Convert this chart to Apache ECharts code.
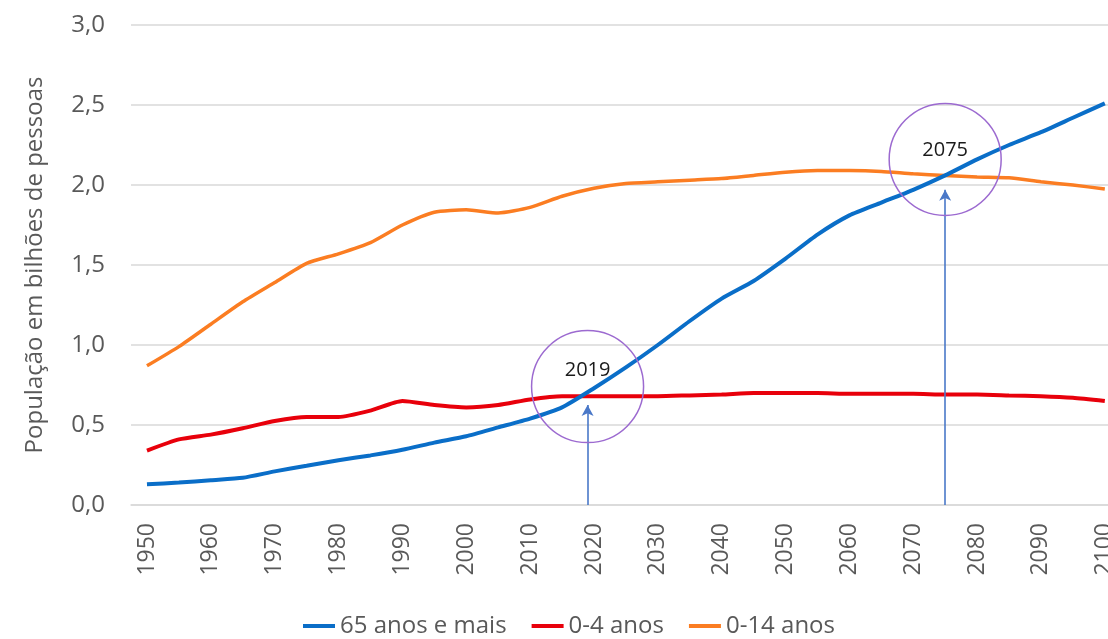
<!DOCTYPE html>
<html>
<head>
<meta charset="utf-8">
<script src="https://cdn.jsdelivr.net/npm/echarts@6/dist/echarts.min.js"></script>
<style>
  html, body { margin: 0; padding: 0; background: #ffffff; overflow: hidden; }
  #chart { width: 1108px; height: 639px; }
</style>
</head>
<body>
<div id="chart"></div>
<script>
// Years on the horizontal axis (5-year steps)
const years = [1950, 1955, 1960, 1965, 1970, 1975, 1980, 1985, 1990, 1995,
               2000, 2005, 2010, 2015, 2020, 2025, 2030, 2035, 2040, 2045,
               2050, 2055, 2060, 2065, 2070, 2075, 2080, 2085, 2090, 2095, 2100];

// Population in billions
const age65plus = [0.13, 0.14, 0.155, 0.17, 0.21, 0.245, 0.28, 0.31, 0.345, 0.39,
                   0.43, 0.485, 0.54, 0.61, 0.73, 0.86, 1.00, 1.15, 1.29, 1.40,
                   1.54, 1.69, 1.81, 1.89, 1.97, 2.06, 2.16, 2.25, 2.33, 2.42, 2.51];
const age0to4 = [0.34, 0.41, 0.44, 0.48, 0.525, 0.55, 0.55, 0.59, 0.65, 0.625,
                 0.61, 0.625, 0.66, 0.68, 0.68, 0.68, 0.68, 0.685, 0.69, 0.70,
                 0.70, 0.70, 0.695, 0.695, 0.695, 0.69, 0.69, 0.685, 0.68, 0.67, 0.65];
const age0to14 = [0.87, 0.99, 1.13, 1.27, 1.39, 1.51, 1.57, 1.64, 1.75, 1.83,
                  1.845, 1.825, 1.86, 1.93, 1.98, 2.01, 2.02, 2.03, 2.04, 2.06,
                  2.08, 2.09, 2.09, 2.085, 2.07, 2.06, 2.05, 2.045, 2.02, 2.00, 1.975];

// Axis labels
const xLabelYears = [1950, 1960, 1970, 1980, 1990, 2000, 2010, 2020, 2030, 2040,
                     2050, 2060, 2070, 2080, 2090, 2100];
const yTicks = [0, 0.5, 1.0, 1.5, 2.0, 2.5, 3.0];

// Crossover annotations: year, circle centre value, arrow tip value
const markYears = [2019, 2075];
const circleValues = [0.74, 2.16];
const arrowTips = [0.625, 1.97];

const seriesNames = ['65 anos e mais', '0-4 anos', '0-14 anos'];
const FONT = '"Open Sans", sans-serif';

const pairs = vals => years.map((y, i) => [y, vals[i]]);

const chart = echarts.init(document.getElementById('chart'), null, { renderer: 'canvas' });

chart.setOption({
  animation: false,
  backgroundColor: '#ffffff',
  textStyle: { fontFamily: FONT },
  grid: {
    left: 131, right: 0, top: 25, bottom: 134,
    containLabel: false,
    outerBoundsMode: 'none'
  },
  legend: {
    bottom: -4,
    left: 298,
    data: seriesNames,
    icon: 'rect',
    itemWidth: 32,
    itemHeight: 4,
    itemGap: 25,
    textStyle: { fontFamily: FONT, fontSize: 24, color: '#595959' }
  },
  xAxis: {
    type: 'value',
    min: 1947.5,
    max: 2100.5,
    axisLine: { show: true, lineStyle: { color: '#d9d9d9', width: 1.5 } },
    axisTick: { show: false },
    splitLine: { show: false },
    axisLabel: {
      customValues: xLabelYears,
      rotate: 90,
      margin: 18,
      fontFamily: FONT,
      fontSize: 23,
      color: '#595959',
      formatter: v => String(v)
    }
  },
  yAxis: {
    type: 'value',
    min: 0,
    max: 3,
    interval: 0.5,
    name: 'População em bilhões de pessoas',
    nameLocation: 'middle',
    nameGap: 84,
    nameTextStyle: { fontFamily: FONT, fontSize: 24, color: '#595959' },
    axisLine: { show: false },
    axisTick: { show: false },
    splitLine: { lineStyle: { color: '#d9d9d9', width: 1.5 } },
    axisLabel: {
      customValues: yTicks,
      margin: 26,
      fontFamily: FONT,
      fontSize: 24,
      color: '#595959',
      formatter: v => v.toFixed(1).replace('.', ',')
    }
  },
  series: [
    {
      name: seriesNames[0],
      type: 'line',
      data: pairs(age65plus),
      smooth: 0.2,
      symbol: 'none',
      lineStyle: { color: '#0a6ec8', width: 4 },
      itemStyle: { color: '#0a6ec8' },
      z: 3,
      markLine: {
        silent: true,
        symbol: ['none', 'arrow'],
        symbolSize: [9, 11],
        label: { show: false },
        lineStyle: { color: '#4a78c8', width: 1.6, type: 'solid' },
        data: markYears.map((yr, i) => [
          { coord: [yr, 0] },
          { coord: [yr, arrowTips[i]] }
        ])
      },
      markPoint: {
        silent: true,
        symbol: 'circle',
        symbolSize: 112,
        itemStyle: { color: 'rgba(0,0,0,0)', borderColor: '#9c6ad0', borderWidth: 1.5 },
        data: markYears.map((yr, i) => ({
          coord: [yr, circleValues[i]],
          label: {
            show: true,
            position: 'inside',
            offset: [0, i === 0 ? -16 : -9],
            formatter: String(yr),
            fontFamily: FONT,
            fontSize: 20,
            color: '#1a1a1a'
          }
        }))
      }
    },
    {
      name: seriesNames[1],
      type: 'line',
      data: pairs(age0to4),
      smooth: 0.2,
      symbol: 'none',
      lineStyle: { color: '#e8000b', width: 4 },
      itemStyle: { color: '#e8000b' },
      z: 2
    },
    {
      name: seriesNames[2],
      type: 'line',
      data: pairs(age0to14),
      smooth: 0.2,
      symbol: 'none',
      lineStyle: { color: '#fb7d22', width: 3.5 },
      itemStyle: { color: '#fb7d22' },
      z: 2
    }
  ]
});
</script>
</body>
</html>
